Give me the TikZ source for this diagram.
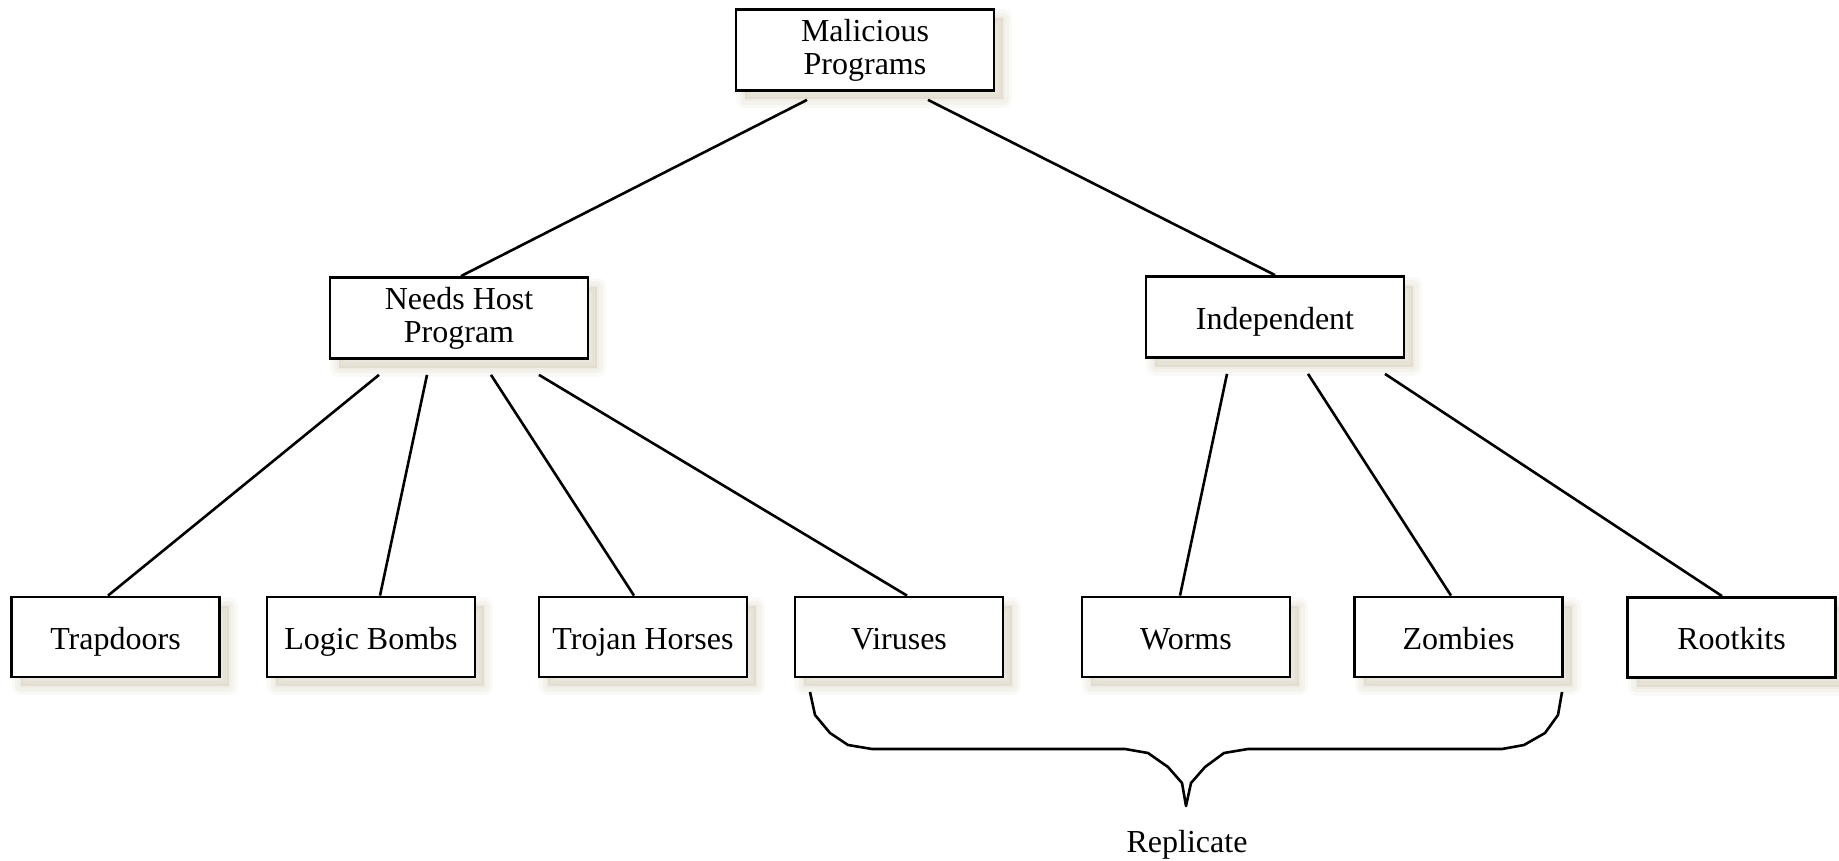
\documentclass[tikz,border=0pt]{standalone}
\usepackage{fontspec}
\setmainfont{Liberation Serif}
\definecolor{shade}{RGB}{160,145,100}
\begin{document}
\begin{tikzpicture}[x=1pt,y=1pt,
  % soft warm shadow built from a few translucent layers
  shadowlayer/.style={preaction={draw=shade, fill=shade, line width=#1,
    draw opacity=0.06, fill opacity=0.06, line join=round,
    transform canvas={shift={(9pt,-9pt)}}}},
  softshadow/.style={shadowlayer=18pt, shadowlayer=11pt, shadowlayer=4pt},
  box/.style={softshadow, draw=black, line width=2.8pt, fill=white, inner sep=0pt,
    align=center, font=\fontsize{32}{33}\selectfont},
  oneline/.style={text height=24pt, text depth=0pt},
  bigbox/.style={box, minimum width=258pt, minimum height=81pt},
  leafbox/.style={box, oneline, minimum width=208pt, minimum height=80pt},
  link/.style={draw=black, line width=2.6pt},
  label/.style={font=\fontsize{32}{33}\selectfont}]
\useasboundingbox (0,0) rectangle (1839,-861);

% hierarchy boxes
\node[bigbox] (top)   at (865,-50)  {Malicious\\Programs};
\node[bigbox] (needs) at (459,-318) {Needs Host\\Program};
\node[bigbox, oneline] (indep) at (1275,-317) {Independent};

\node[leafbox] (trap)    at (115.5,-637)  {Trapdoors};
\node[leafbox] (logic)   at (371,-637)    {Logic Bombs};
\node[leafbox] (trojan)  at (643,-637)    {Trojan Horses};
\node[leafbox] (viruses) at (899,-637)    {Viruses};
\node[leafbox] (worms)   at (1186,-637)   {Worms};
\node[leafbox] (zombies) at (1458.5,-637) {Zombies};
\node[leafbox] (rootkits) at (1731.5,-637.5) {Rootkits};

% connectors
\draw[link] ([shift={(-58,-8)}]top.south) -- ([xshift=2]needs.north);
\draw[link] ([shift={(63,-8)}]top.south) -- (indep.north);

\draw[link] ([shift={(-80,-15)}]needs.south) -- ([xshift=-7.5]trap.north);
\draw[link] ([shift={(-32,-15)}]needs.south) -- ([xshift=9]logic.north);
\draw[link] ([shift={(32,-15)}]needs.south) -- ([xshift=-9]trojan.north);
\draw[link] ([shift={(80,-15)}]needs.south) -- ([xshift=8]viruses.north);

\draw[link] ([shift={(-48,-15)}]indep.south) -- ([xshift=-6]worms.north);
\draw[link] ([shift={(33,-15)}]indep.south) -- ([xshift=-7.5]zombies.north);
\draw[link] ([shift={(110,-15)}]indep.south) -- ([xshift=-9.5]rootkits.north);

% brace under the replicating programs
\coordinate (bl) at (810,-692);
\coordinate (br) at (1562,-692);
\coordinate (tip) at (1186,-806);
\draw[link, line join=round]
  (bl) -- (815,-715) -- (830,-733) -- (848,-745) -- (872,-749)
  -- (1125,-749) -- (1148,-753) -- (1168,-767) -- (1182,-783) -- (tip)
  -- (1191,-783) -- (1205,-767) -- (1224,-753) -- (1248,-749)
  -- (1502,-749) -- (1524,-745) -- (1545,-733) -- (1558,-715) -- (br);
\node[label] (rep) at (1187,-845) {Replicate};
\end{tikzpicture}
\end{document}
